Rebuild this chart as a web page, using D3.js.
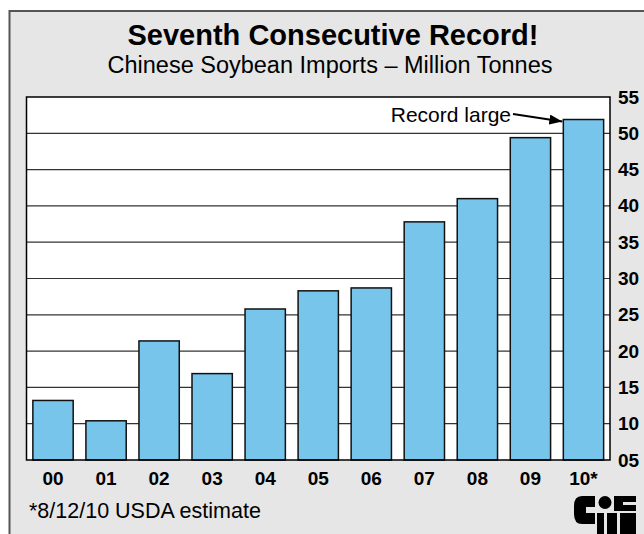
<!DOCTYPE html>
<html>
<head>
<meta charset="utf-8">
<script src="https://cdn.jsdelivr.net/npm/d3@7"></script>
<style>
  body { margin: 0; background: #fff; }
  text { font-family: "Liberation Sans", Arial, sans-serif; fill: #000; }
</style>
</head>
<body>
<div id="chart-area"></div>
<script>
// data
var years = ["00", "01", "02", "03", "04", "05", "06", "07", "08", "09", "10*"];
var imports = [13.2, 10.4, 21.4, 16.9, 25.8, 28.3, 28.7, 37.8, 41.0, 49.4, 51.9];
var yTicks = [5, 10, 15, 20, 25, 30, 35, 40, 45, 50, 55];

var W = 644, H = 534;
var margin = {left: 26.5, right: 34, top: 97, bottom: 74};

var svg = d3.select("#chart-area")
  .append("svg")
    .attr("width", W)
    .attr("height", H);

// outer frame
svg.append("rect")
    .attr("x", 9.5).attr("y", 11)
    .attr("width", W).attr("height", H)
    .attr("fill", "#e6e6e6")
    .attr("stroke", "#555")
    .attr("stroke-width", 2);

var x = d3.scaleBand()
    .domain(years)
    .range([margin.left, W - margin.right])
    .paddingInner(0.24)
    .paddingOuter(0.12);

var y = d3.scaleLinear()
    .domain([5, 55])
    .range([H - margin.bottom, margin.top]);

// plot area
svg.append("rect")
    .attr("x", margin.left).attr("y", margin.top)
    .attr("width", W - margin.right - margin.left)
    .attr("height", H - margin.bottom - margin.top)
    .attr("fill", "#fff");

// gridlines
svg.append("g")
  .selectAll("line").data(yTicks.slice(1, -1))
  .enter().append("line")
    .attr("x1", margin.left).attr("x2", W - margin.right)
    .attr("y1", (d) => y(d)).attr("y2", (d) => y(d))
    .attr("stroke", "#333")
    .attr("stroke-width", 1.2);

// bars
svg.append("g")
  .selectAll("rect").data(imports)
  .enter().append("rect")
    .attr("x", (d, i) => x(years[i]))
    .attr("y", (d) => y(d))
    .attr("width", x.bandwidth())
    .attr("height", (d) => y(5) - y(d))
    .attr("fill", "#78c5ec")
    .attr("stroke", "#111")
    .attr("stroke-width", 1.5);

// plot border
svg.append("rect")
    .attr("x", margin.left).attr("y", margin.top)
    .attr("width", W - margin.right - margin.left)
    .attr("height", H - margin.bottom - margin.top)
    .attr("fill", "none")
    .attr("stroke", "#000")
    .attr("stroke-width", 1.5);

// right axis labels
var yAxis = d3.axisRight(y)
    .tickValues(yTicks)
    .tickSize(0)
    .tickPadding(8)
    .tickFormat(d3.format("02d"));
svg.append("g")
    .attr("class", "right axis")
    .attr("transform", "translate(" + (W - margin.right) + ",0)")
    .call(yAxis)
    .call((g) => g.select(".domain").remove())
    .selectAll("text")
      .attr("font-size", "19px")
      .attr("font-weight", "bold")
      .attr("font-family", "Liberation Sans, Arial, sans-serif")
      .attr("fill", "#000");

// bottom axis labels
var xAxis = d3.axisBottom(x).tickSize(0).tickPadding(12);
svg.append("g")
    .attr("class", "bottom axis")
    .attr("transform", "translate(0," + (H - margin.bottom) + ")")
    .call(xAxis)
    .call((g) => g.select(".domain").remove())
    .selectAll("text")
      .attr("font-size", "19px")
      .attr("font-weight", "bold")
      .attr("font-family", "Liberation Sans, Arial, sans-serif")
      .attr("fill", "#000");

// titles
svg.append("text")
    .attr("x", 333).attr("y", 45)
    .attr("text-anchor", "middle")
    .attr("font-size", "29px")
    .attr("font-weight", "bold")
    .text("Seventh Consecutive Record!");

svg.append("text")
    .attr("x", 330).attr("y", 73)
    .attr("text-anchor", "middle")
    .attr("font-size", "23.5px")
    .text("Chinese Soybean Imports \u2013 Million Tonnes");

// annotation
var last = years.length - 1;
var ax = x(years[last]) - 1, ay = y(imports[last]) + 2;
svg.append("text")
    .attr("x", 511).attr("y", 122)
    .attr("text-anchor", "end")
    .attr("font-size", "21px")
    .text("Record large");
svg.append("defs").append("marker")
    .attr("id", "arrow")
    .attr("viewBox", "0 0 10 10")
    .attr("refX", 10).attr("refY", 5)
    .attr("markerWidth", 13).attr("markerHeight", 10)
    .attr("markerUnits", "userSpaceOnUse")
    .attr("orient", "auto")
    .attr("preserveAspectRatio", "none")
  .append("path")
    .attr("d", "M0,0L10,5L0,10Z")
    .attr("fill", "#000");
svg.append("line")
    .attr("x1", 513).attr("y1", 114)
    .attr("x2", ax).attr("y2", ay)
    .attr("stroke", "#000")
    .attr("stroke-width", 2)
    .attr("marker-end", "url(#arrow)");

// footnote
svg.append("text")
    .attr("x", 29).attr("y", 518)
    .attr("font-size", "21.5px")
    .text("*8/12/10 USDA estimate");

// logo (rough)
var logo = svg.append("g").attr("transform", "translate(574,496)");
logo.append("path")
    .attr("d", "M21,0 L8,0 Q0,0 0,10 L0,18 Q0,28 8,28 L21,28 L21,17 L12,17 L12,11 L21,11 Z")
    .attr("fill", "#000");
logo.append("circle").attr("cx", 31).attr("cy", 6.5).attr("r", 6.5).attr("fill", "#000");
logo.append("path")
    .attr("d", "M40,0 L62,0 L62,6 L49,6 L49,9 L62,9 L62,15 L40,15 L40,5 Z")
    .attr("fill", "#000");
logo.append("rect").attr("x", 23).attr("y", 17).attr("width", 7).attr("height", 21).attr("fill", "#000");
logo.append("rect").attr("x", 33).attr("y", 17).attr("width", 10).attr("height", 21).attr("fill", "#000");
logo.append("rect").attr("x", 46).attr("y", 17).attr("width", 16).attr("height", 21).attr("fill", "#000");
</script>
</body>
</html>
